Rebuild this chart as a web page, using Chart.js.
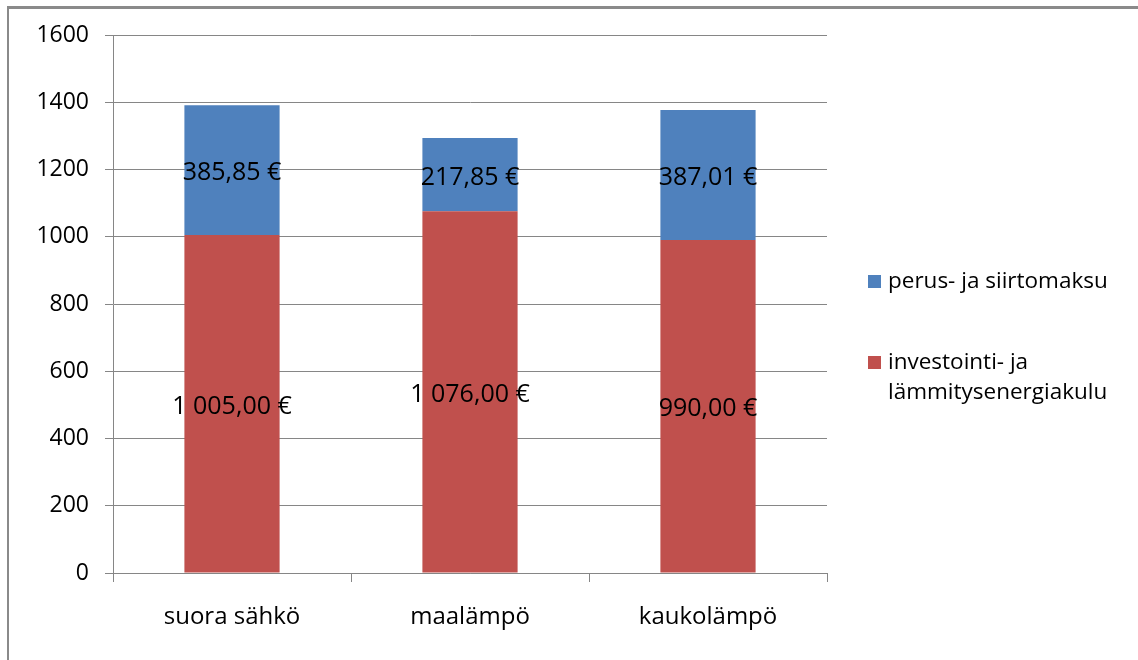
<!DOCTYPE html>
<html lang="fi">
<head>
<meta charset="utf-8">
<title>Lämmityskustannukset</title>
<script src="https://cdn.jsdelivr.net/npm/chart.js@4/dist/chart.umd.min.js"></script>
<style>
  html, body { margin: 0; padding: 0; background: #ffffff; }
  #wrap { position: relative; width: 1138px; height: 660px; }
</style>
</head>
<body>
<div id="wrap"><canvas id="c" width="1138" height="660"></canvas></div>
<script>
// Lämmitystavat
const categories = ['suora sähkö', 'maalämpö', 'kaukolämpö'];
// Investointi- ja lämmitysenergiakulu (€)
const energyCost = [1005.00, 1076.00, 990.00];
// Perus- ja siirtomaksu (€)
const baseFee = [385.85, 217.85, 387.01];
// Y-akselin asteikko
const yTicks = [0, 200, 400, 600, 800, 1000, 1200, 1400, 1600];

const seriesNames = ['investointi- ja lämmitysenergiakulu', 'perus- ja siirtomaksu'];
const legendLines = [['investointi- ja', 'lämmitysenergiakulu'], ['perus- ja siirtomaksu']];

const FONT = "'Open Sans', 'Noto Sans', 'DejaVu Sans', sans-serif";
const GRID = '#868686';
const RED = '#C0504D';
const BLUE = '#4F81BD';

function euro(v) {
  const parts = v.toFixed(2).split('.');
  const intPart = parts[0].replace(/\B(?=(\d{3})+(?!\d))/g, ' ');
  return intPart + ',' + parts[1] + ' €';
}

// Frame lines along the top and left edge
const framePlugin = {
  id: 'frame',
  beforeDraw(chart) {
    const ctx = chart.ctx;
    ctx.save();
    ctx.fillStyle = '#ffffff';
    ctx.fillRect(0, 0, chart.width, chart.height);
    ctx.fillStyle = '#8a8a8a';
    ctx.fillRect(7, 6, chart.width - 7, 3);
    ctx.fillRect(7, 6, 2, chart.height - 6);
    ctx.restore();
  }
};

// Values written in the middle of each bar segment
const valueLabels = {
  id: 'valueLabels',
  afterDatasetsDraw(chart) {
    const ctx = chart.ctx;
    ctx.save();
    ctx.font = '25px ' + FONT;
    ctx.fillStyle = '#000000';
    ctx.textAlign = 'center';
    ctx.textBaseline = 'middle';
    chart.data.datasets.forEach((ds, di) => {
      const meta = chart.getDatasetMeta(di);
      meta.data.forEach((bar, i) => {
        const p = bar.getProps(['x', 'y', 'base'], true);
        ctx.fillText(euro(ds.data[i]), p.x, (p.y + p.base) / 2 + 3);
      });
    });
    ctx.restore();
  }
};

// Legend on the right, top series first
const sideLegend = {
  id: 'sideLegend',
  afterDraw(chart) {
    const ctx = chart.ctx;
    ctx.save();
    ctx.font = '22.5px ' + FONT;
    ctx.textBaseline = 'middle';
    ctx.textAlign = 'left';
    const order = [1, 0];
    const rowY = [282, 363];
    order.forEach((di, k) => {
      const ds = chart.data.datasets[di];
      const y = rowY[k];
      ctx.fillStyle = ds.backgroundColor;
      ctx.fillRect(868, y - 7, 13, 13);
      ctx.fillStyle = '#000000';
      legendLines[di].forEach((line, li) => {
        ctx.fillText(line, 888, y + li * 30);
      });
    });
    ctx.restore();
  }
};

new Chart(document.getElementById('c'), {
  type: 'bar',
  data: {
    labels: categories,
    datasets: [
      { label: seriesNames[0], data: energyCost, backgroundColor: RED, borderWidth: 0 },
      { label: seriesNames[1], data: baseFee, backgroundColor: BLUE, borderWidth: 0 }
    ]
  },
  options: {
    responsive: false,
    animation: false,
    devicePixelRatio: 1,
    layout: { padding: { top: 35, right: 311, left: 0, bottom: 0 } },
    datasets: { bar: { barPercentage: 0.4, categoryPercentage: 1.0 } },
    plugins: {
      legend: { display: false },
      tooltip: { enabled: false }
    },
    scales: {
      x: {
        stacked: true,
        afterFit(scale) { scale.height = 87; },
        grid: {
          offset: true,
          drawOnChartArea: false,
          drawTicks: true,
          tickLength: 9,
          tickColor: GRID,
          color: GRID
        },
        border: { display: true, color: GRID, width: 1 },
        ticks: {
          color: '#000000',
          padding: 21,
          font: { family: FONT, size: 24 }
        }
      },
      y: {
        stacked: true,
        min: yTicks[0],
        max: yTicks[yTicks.length - 1],
        afterFit(scale) { scale.width = 113; },
        afterBuildTicks(scale) { scale.ticks = yTicks.map(v => ({ value: v })); },
        grid: {
          color: GRID,
          lineWidth: 1,
          drawTicks: true,
          tickLength: 8,
          tickColor: GRID
        },
        border: { display: true, color: GRID, width: 1 },
        ticks: {
          color: '#000000',
          padding: 16,
          font: { family: FONT, size: 23 },
          callback: (v) => String(v)
        }
      }
    }
  },
  plugins: [framePlugin, valueLabels, sideLegend]
});
</script>
</body>
</html>
